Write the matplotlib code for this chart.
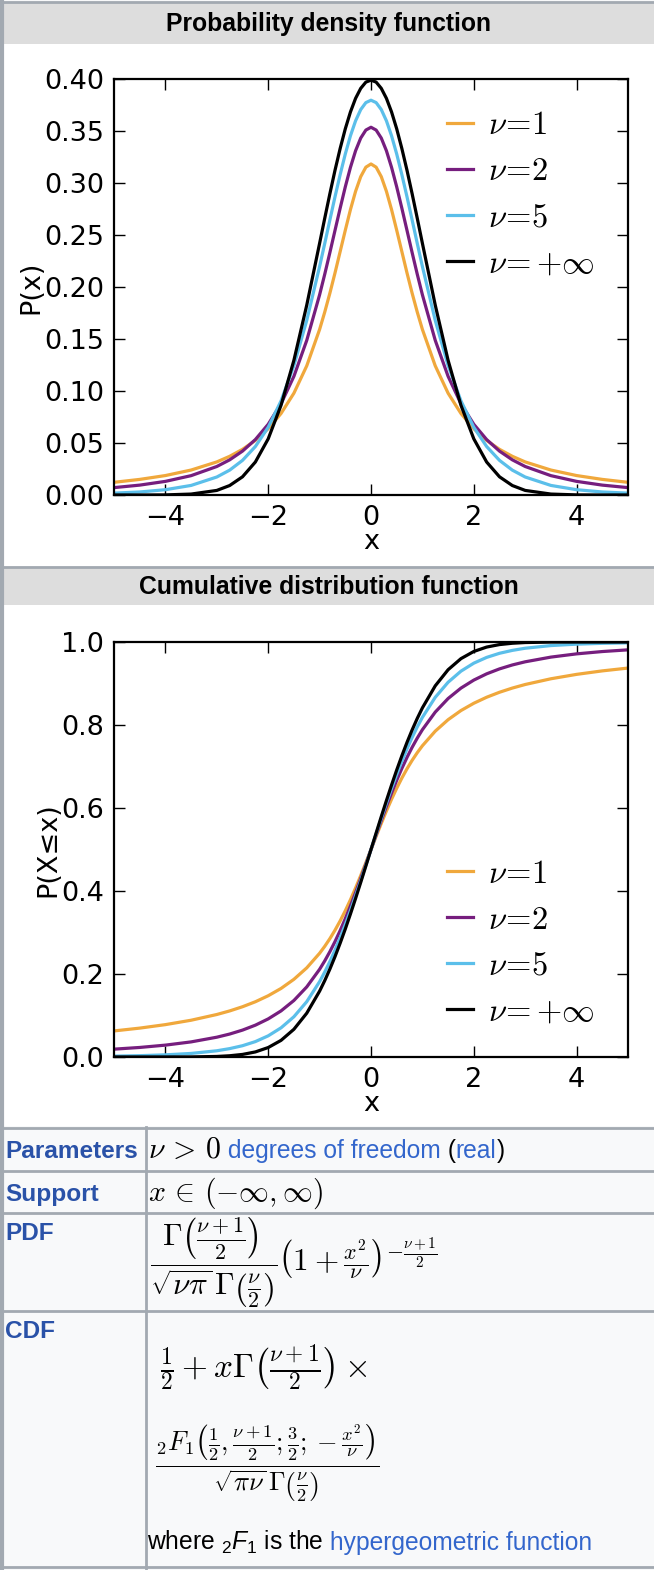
import numpy as np
import matplotlib as mp
import matplotlib.pyplot as plt
from matplotlib.patches import Rectangle

mp.rcParams['mathtext.fontset'] = 'cm'
mp.rcParams['font.family'] = 'DejaVu Sans'
mp.rcParams['mathtext.rm'] = 'Liberation Sans'
mp.rcParams['mathtext.it'] = 'Liberation Sans:italic'

W, H = 654, 1570

# valors llegits de la figura
x = [-5, -4.5, -4, -3.5, -3, -2.75, -2.5, -2.25, -2, -1.75, -1.5, -1.25, -1,
     -0.9, -0.8, -0.7, -0.6, -0.5, -0.4, -0.3, -0.2, -0.1, 0,
     0.1, 0.2, 0.3, 0.4, 0.5, 0.6, 0.7, 0.8, 0.9, 1,
     1.25, 1.5, 1.75, 2, 2.25, 2.5, 2.75, 3, 3.5, 4, 4.5, 5]

pdf_1 = [0.0122, 0.0150, 0.0187, 0.0240, 0.0318, 0.0372, 0.0439, 0.0525, 0.0637, 0.0784, 0.0979, 0.1242, 0.1592,
         0.1759, 0.1941, 0.2136, 0.2341, 0.2546, 0.2744, 0.2920, 0.3061, 0.3152, 0.3183,
         0.3152, 0.3061, 0.2920, 0.2744, 0.2546, 0.2341, 0.2136, 0.1941, 0.1759, 0.1592,
         0.1242, 0.0979, 0.0784, 0.0637, 0.0525, 0.0439, 0.0372, 0.0318, 0.0240, 0.0187, 0.0150, 0.0122]
pdf_2 = [0.0071, 0.0095, 0.0131, 0.0186, 0.0274, 0.0338, 0.0422, 0.0533, 0.0680, 0.0878, 0.1141, 0.1487, 0.1925,
         0.2123, 0.2331, 0.2545, 0.2758, 0.2963, 0.3150, 0.3310, 0.3432, 0.3509, 0.3536,
         0.3509, 0.3432, 0.3310, 0.3150, 0.2963, 0.2758, 0.2545, 0.2331, 0.2123, 0.1925,
         0.1487, 0.1141, 0.0878, 0.0680, 0.0533, 0.0422, 0.0338, 0.0274, 0.0186, 0.0131, 0.0095, 0.0071]
pdf_5 = [0.0018, 0.0029, 0.0051, 0.0092, 0.0173, 0.0239, 0.0333, 0.0466, 0.0651, 0.0905, 0.1245, 0.1679, 0.2197,
         0.2419, 0.2645, 0.2868, 0.3081, 0.3279, 0.3454, 0.3598, 0.3706, 0.3773, 0.3796,
         0.3773, 0.3706, 0.3598, 0.3454, 0.3279, 0.3081, 0.2868, 0.2645, 0.2419, 0.2197,
         0.1679, 0.1245, 0.0905, 0.0651, 0.0466, 0.0333, 0.0239, 0.0173, 0.0092, 0.0051, 0.0029, 0.0018]
pdf_inf = [0.0000, 0.0000, 0.0001, 0.0009, 0.0044, 0.0091, 0.0175, 0.0317, 0.0540, 0.0863, 0.1295, 0.1826, 0.2420,
           0.2661, 0.2897, 0.3123, 0.3332, 0.3521, 0.3683, 0.3814, 0.3910, 0.3970, 0.3989,
           0.3970, 0.3910, 0.3814, 0.3683, 0.3521, 0.3332, 0.3123, 0.2897, 0.2661, 0.2420,
           0.1826, 0.1295, 0.0863, 0.0540, 0.0317, 0.0175, 0.0091, 0.0044, 0.0009, 0.0001, 0.0000, 0.0000]

cdf_1 = [0.0628, 0.0696, 0.0780, 0.0886, 0.1024, 0.1110, 0.1211, 0.1331, 0.1476, 0.1652, 0.1872, 0.2148, 0.2500,
         0.2667, 0.2852, 0.3056, 0.3280, 0.3524, 0.3789, 0.4072, 0.4372, 0.4683, 0.5000,
         0.5317, 0.5628, 0.5928, 0.6211, 0.6476, 0.6720, 0.6944, 0.7148, 0.7333, 0.7500,
         0.7852, 0.8128, 0.8348, 0.8524, 0.8669, 0.8789, 0.8890, 0.8976, 0.9114, 0.9220, 0.9304, 0.9372]
cdf_2 = [0.0189, 0.0230, 0.0286, 0.0364, 0.0477, 0.0553, 0.0648, 0.0767, 0.0918, 0.1111, 0.1362, 0.1689, 0.2113,
         0.2316, 0.2538, 0.2782, 0.3047, 0.3333, 0.3639, 0.3962, 0.4300, 0.4647, 0.5000,
         0.5353, 0.5700, 0.6038, 0.6361, 0.6667, 0.6953, 0.7218, 0.7462, 0.7684, 0.7887,
         0.8311, 0.8638, 0.8889, 0.9082, 0.9233, 0.9352, 0.9447, 0.9523, 0.9636, 0.9714, 0.9770, 0.9811]
cdf_5 = [0.0021, 0.0032, 0.0052, 0.0086, 0.0150, 0.0202, 0.0272, 0.0371, 0.0510, 0.0703, 0.0970, 0.1333, 0.1816,
         0.2047, 0.2300, 0.2576, 0.2873, 0.3191, 0.3528, 0.3881, 0.4247, 0.4621, 0.5000,
         0.5379, 0.5753, 0.6119, 0.6472, 0.6809, 0.7127, 0.7424, 0.7700, 0.7953, 0.8184,
         0.8667, 0.9030, 0.9297, 0.9490, 0.9629, 0.9728, 0.9798, 0.9850, 0.9914, 0.9948, 0.9968, 0.9979]
cdf_inf = [0.0000, 0.0000, 0.0000, 0.0002, 0.0013, 0.0030, 0.0062, 0.0122, 0.0228, 0.0401, 0.0668, 0.1056, 0.1587,
           0.1841, 0.2119, 0.2420, 0.2743, 0.3085, 0.3446, 0.3821, 0.4207, 0.4602, 0.5000,
           0.5398, 0.5793, 0.6179, 0.6554, 0.6915, 0.7257, 0.7580, 0.7881, 0.8159, 0.8413,
           0.8944, 0.9332, 0.9599, 0.9772, 0.9878, 0.9938, 0.9970, 0.9987, 0.9998, 1.0000, 1.0000, 1.0000]

labels = [r'$\nu\!=\!1$', r'$\nu\!=\!2$', r'$\nu\!=\!5$', r'$\nu\!=+\infty$']
colors = ['#f0a83c', '#761e7e', '#5bbfea', '#000000']

pdf_ticks = [0.0, 0.05, 0.10, 0.15, 0.20, 0.25, 0.30, 0.35, 0.40]
cdf_ticks = [0.0, 0.2, 0.4, 0.6, 0.8, 1.0]
x_ticks = [-4, -2, 0, 2, 4]

BORDER = '#a2a9b1'
LINK = '#3366cc'
LABEL = '#2a52a8'
SANS = 'Liberation Sans'


def rect_px(l, t, r, b):
    return [l / W, 1 - b / H, (r - l) / W, (b - t) / H]


fig = plt.figure(figsize=(W / 100, H / 100), dpi=100)
fig.patch.set_facecolor('#f8f9fa')

# capa de fons en coordenades de pixel
bg = fig.add_axes([0, 0, 1, 1])
bg.set_xlim(0, W)
bg.set_ylim(H, 0)
bg.axis('off')

bg.add_patch(Rectangle((3, 44), W, 522, fc='white', ec='none'))
bg.add_patch(Rectangle((3, 605), W, 521, fc='white', ec='none'))
bg.add_patch(Rectangle((3, 3), W, 41, fc='#dddddd', ec='none'))
bg.add_patch(Rectangle((3, 568), W, 37, fc='#dddddd', ec='none'))
for yy in [1.5, 566.5, 1127.5, 1170.5, 1212.5, 1311, 1567]:
    bg.plot([0, W], [yy, yy], color=BORDER, lw=2)
bg.plot([1.5, 1.5], [0, H], color=BORDER, lw=3)
bg.plot([145.5, 145.5], [1127, H], color=BORDER, lw=2)

bg.text(329, 24, 'Probability density function', ha='center', va='center',
        family=SANS, fontweight='bold', fontsize=17.8)
bg.text(329, 587, 'Cumulative distribution function', ha='center', va='center',
        family=SANS, fontweight='bold', fontsize=17.8)


def plot_panel(rect, series, yticks, fmt, ylabel, leg_anchor):
    ax = fig.add_axes(rect_px(*rect))
    ax.set_facecolor('white')
    for ys, c, lab in zip(series, colors, labels):
        ax.plot(x, ys, color=c, lw=2.3, label=lab)
    ax.set_xlim(-5, 5)
    ax.set_ylim(yticks[0], yticks[-1])
    ax.set_xticks(x_ticks)
    ax.set_yticks(yticks)
    ax.set_yticklabels([fmt % v for v in yticks])
    ax.tick_params(direction='in', length=8, width=1, top=True, right=True,
                   labelsize=19.5, pad=7)
    for sp in ax.spines.values():
        sp.set_linewidth(1.6)
    ax.set_xlabel('x', fontsize=19.5, labelpad=-1)
    ax.set_ylabel(ylabel, fontsize=19.5, labelpad=0)
    ax.legend(loc='upper left', bbox_to_anchor=leg_anchor, frameon=False,
              fontsize=23.5, handlelength=0.8, handletextpad=0.45,
              labelspacing=0.4, borderpad=0, borderaxespad=0)
    return ax


ax1 = plot_panel((114, 79, 628, 495), [pdf_1, pdf_2, pdf_5, pdf_inf],
                 pdf_ticks, '%.2f', 'P(x)', (0.648, 0.93))
ax2 = plot_panel((114, 642, 628, 1057), [cdf_1, cdf_2, cdf_5, cdf_inf],
                 cdf_ticks, '%.1f', 'P(X≤x)', (0.648, 0.483))

renderer = fig.canvas.get_renderer()


def rich(x0, y0, parts):
    for s, c, kw in parts:
        t = bg.text(x0, y0, s, color=c, ha='left', va='baseline', **kw)
        x0 += t.get_window_extent(renderer).width


body = dict(family=SANS, fontsize=17.7)
bold = dict(family=SANS, fontsize=17.6, fontweight='bold')
math = dict(fontsize=21.5)

bg.text(5, 1158, 'Parameters', color=LABEL, **bold)
bg.text(5, 1201, 'Support', color=LABEL, **bold)
bg.text(5, 1240, 'PDF', color=LABEL, **bold)
bg.text(5, 1338, 'CDF', color=LABEL, **bold)

rich(148, 1158, [(r'$\nu\,>\,0$', 'black', math),
                 (' degrees of freedom', LINK, body),
                 (' (', 'black', body),
                 ('real', LINK, body),
                 (')', 'black', body)])
bg.text(148, 1201, r'$x\,\in\,(-\infty,\infty)$', color='black', **math)

bg.text(150, 1263, r'$\dfrac{\Gamma\left(\frac{\nu+1}{2}\right)}{\sqrt{\nu\pi}\,'
        r'\Gamma\left(\frac{\nu}{2}\right)}\left(1+\frac{x^2}{\nu}\right)^{-\frac{\nu+1}{2}}$',
        ha='left', va='center', fontsize=22.5)
bg.text(160, 1368, r'$\frac{1}{2}+x\Gamma\left(\frac{\nu+1}{2}\right)\times$',
        ha='left', va='center', fontsize=24)
bg.text(155, 1463, r'$\dfrac{{}_2F_1\left(\frac{1}{2},\frac{\nu+1}{2};\frac{3}{2};-\frac{x^2}{\nu}\right)}'
        r'{\sqrt{\pi\nu}\,\Gamma\left(\frac{\nu}{2}\right)}$',
        ha='left', va='center', fontsize=19)

rich(147, 1550, [(r'where ${}_2F_1$ is the', 'black', dict(body, math_fontfamily='custom')),
                 (' hypergeometric function', LINK, body)])

fig.savefig('out.png', dpi=100, facecolor=fig.get_facecolor())
